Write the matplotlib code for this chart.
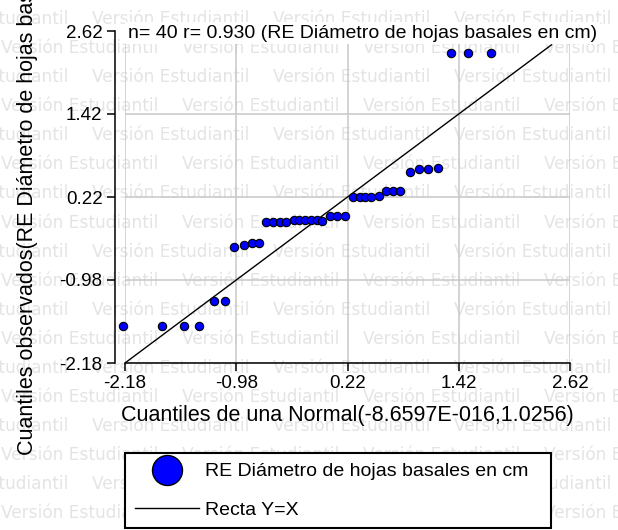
import matplotlib
matplotlib.use("Agg")
import matplotlib.pyplot as plt
from matplotlib.lines import Line2D
from matplotlib.textpath import TextPath
from matplotlib.font_manager import FontProperties

# Q-Q plot normal (InfoStat)
cuantiles_normal = [-2.20, -1.78, -1.54, -1.38, -1.22, -1.10, -1.00, -0.90, -0.81, -0.73,
                    -0.66, -0.58, -0.51, -0.44, -0.36, -0.30, -0.24, -0.17, -0.11, -0.05,
                    0.03, 0.11, 0.19, 0.28, 0.35, 0.41, 0.47, 0.56, 0.64, 0.71,
                    0.79, 0.89, 0.99, 1.09, 1.20, 1.34, 1.52, 1.77]
cuantiles_obs = [-1.64, -1.64, -1.64, -1.64, -1.29, -1.29, -0.51, -0.47, -0.44, -0.44,
                 -0.14, -0.14, -0.14, -0.14, -0.11, -0.11, -0.11, -0.11, -0.11, -0.12,
                 -0.06, -0.06, -0.06, 0.22, 0.22, 0.22, 0.22, 0.24, 0.30, 0.30,
                 0.30, 0.58, 0.62, 0.62, 0.64, 2.30, 2.30, 2.30]
recta = [-2.18, 2.42]
ticks = [-2.18, -0.98, 0.22, 1.42, 2.62]

n = 40
r = 0.930
variable = "RE Diámetro de hojas basales en cm"

plt.rcParams['font.family'] = ['Liberation Sans', 'DejaVu Sans']

W, H = 618, 530
fig = plt.figure(figsize=(W / 100, H / 100), dpi=100)

# marca de agua "Versión Estudiantil" (~156 px de ancho, se repite cada 181 px)
marca = "Versión Estudiantil"
ancho_10 = TextPath((0, 0), marca, size=10, prop=FontProperties(family='DejaVu Sans')).get_extents().width
fs_marca = 10 * (156 * 0.72) / ancho_10
for k in range(-2, 17):
    yy = 77 + 29.1 * k
    xx = -89 if k % 2 == 0 else 1
    while xx < W:
        fig.text(xx / W, 1 - yy / H, marca, family='DejaVu Sans',
                 fontsize=fs_marca, color='#e4e4e4', ha='left', va='center', zorder=-1)
        xx += 181

ax = fig.add_axes([125 / W, 1 - 363 / H, 445 / W, 332 / H])
ax.patch.set_alpha(0)

ax.plot(recta, recta, color='black', lw=1.0, zorder=2)
ax.scatter(cuantiles_normal, cuantiles_obs, s=36, color='#0000ff', edgecolor='black',
           linewidth=0.8, zorder=3, clip_on=False)

ax.set_xlim(ticks[0], ticks[-1])
ax.set_ylim(ticks[0], ticks[-1])
ax.set_xticks(ticks)
ax.set_yticks(ticks)
ax.set_xticklabels([f"{t:.2f}" for t in ticks])
ax.set_yticklabels([f"{t:.2f}" for t in ticks])
ax.grid(color='#c8c8c8', lw=1.1)
ax.set_axisbelow(True)

ax.spines['top'].set_visible(False)
ax.spines['right'].set_visible(False)
ax.spines['left'].set_position(('outward', 7.2))
for s in ['left', 'bottom']:
    ax.spines[s].set_linewidth(1.1)
ax.tick_params(direction='out', length=5.5, width=1.1, labelsize=13.5, pad=3.5)

ax.set_xlabel("Cuantiles de una Normal(-8.6597E-016,1.0256)", fontsize=15.5, va='center')
ax.xaxis.set_label_coords((347 - 125) / 445, (363 - 416) / 332)
fig.text(33 / W, 1 - 455 / H, "Cuantiles observados(" + variable + ")", fontsize=15.5,
         rotation=90, rotation_mode='anchor', ha='left', va='baseline')

fig.text(128 / W, 1 - 33 / H, f"n= {n} r= {r:.3f} ({variable})", fontsize=14,
         ha='left', va='center', zorder=5,
         bbox=dict(facecolor='white', edgecolor='none', pad=2))

handles = [Line2D([], [], marker='o', ls='none', ms=21.6, mfc='#0000ff', mec='black', mew=1.0),
           Line2D([], [], color='black', lw=1.0)]
leg = fig.legend(handles, [variable, "Recta Y=X"], loc='upper left',
                 bbox_to_anchor=(125 / W, 1 - 528 / H, 426 / W, 75 / H), mode='expand',
                 borderaxespad=0, fontsize=14, fancybox=False, edgecolor='black',
                 framealpha=1, handlelength=3.3, handletextpad=0.31, borderpad=0.5,
                 labelspacing=1.06, numpoints=1)
leg.get_frame().set_linewidth(1.5)

fig.savefig("out.png", dpi=100)
